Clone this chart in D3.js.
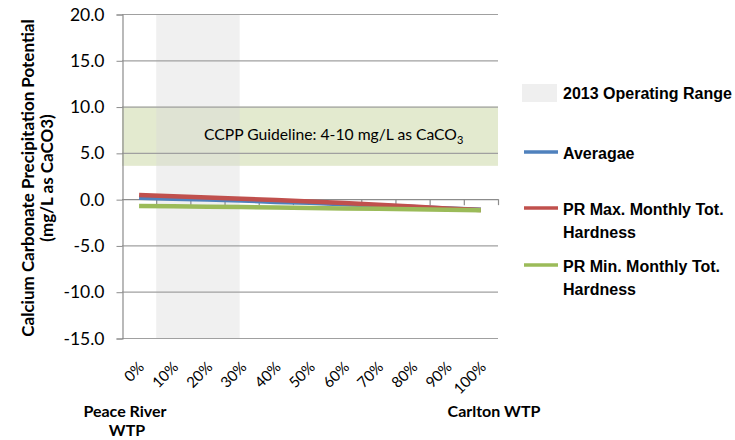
<!DOCTYPE html>
<html>
<head>
<meta charset="utf-8">
<script src="https://cdn.jsdelivr.net/npm/d3@7"></script>
<style>
  body { margin: 0; background: #fff; }
  svg text { font-family: Lato, "Open Sans", sans-serif; fill: #000; }
</style>
</head>
<body>
<div id="chart"></div>
<script>
// blend ratio Peace River -> Carlton
var categories = ['0%','10%','20%','30%','40%','50%','60%','70%','80%','90%','100%'];
var avgValues = [0.15, 0.05, -0.05, -0.15, -0.3, -0.4, -0.55, -0.7, -0.85, -1.0, -1.15];
var maxValues = [0.45, 0.32, 0.18, 0.05, -0.1, -0.25, -0.42, -0.6, -0.8, -1.0, -1.18];
var minValues = [-0.75, -0.78, -0.82, -0.86, -0.9, -0.95, -1.0, -1.05, -1.1, -1.14, -1.2];
var yTicks = [20, 15, 10, 5, 0, -5, -10, -15];
var guideline = [3.6, 10];
var opRange = ['10%', '30%'];

var seriesNames = ['Averagae', 'PR Max. Monthly Tot. Hardness', 'PR Min. Monthly Tot. Hardness'];
var colors = ['#4f81bd', '#c0504d', '#9bbb59'];
var series = [avgValues, maxValues, minValues];

var W = 735, H = 440;
var svg = d3.select('#chart').append('svg').attr('width', W).attr('height', H);

var x = d3.scaleBand().domain(categories).range([122, 498]).padding(0);
var y = d3.scaleLinear().domain([-15, 20]).range([338, 14]);
var cx = function(c) { return x(c) + x.bandwidth() / 2; };

// guideline band
svg.append('rect')
  .attr('x', 122).attr('width', 498 - 122)
  .attr('y', y(guideline[1])).attr('height', y(guideline[0]) - y(guideline[1]))
  .attr('fill', '#e3eacf');

// operating range
svg.append('rect')
  .attr('x', x(opRange[0])).attr('width', cx(opRange[1]) - 2 - x(opRange[0]))
  .attr('y', 14).attr('height', 338 - 14)
  .attr('fill', '#d9d9d9').attr('opacity', 0.4);

// grid lines
svg.selectAll('.grid').data(yTicks).enter().append('line')
  .attr('x1', 122).attr('x2', 498)
  .attr('y1', function(d) { return y(d) + 0.5; }).attr('y2', function(d) { return y(d) + 0.5; })
  .attr('stroke', function(d) { return d == 0 ? '#8c8c8c' : '#a0a0a0'; }).attr('stroke-width', 1.2);

// y axis
var yAxis = d3.axisLeft(y).tickValues(yTicks).tickSize(6).tickPadding(12)
  .tickFormat(d3.format('.1f'));
var gy = svg.append('g').attr('transform', 'translate(122.5,0.5)').call(yAxis);
gy.select('.domain').attr('stroke', '#8c8c8c').attr('stroke-width', 1.2);
gy.selectAll('.tick line').attr('stroke', '#8c8c8c');
gy.selectAll('.tick text').style('font-size', '17.5px').style('font-family', 'Lato, sans-serif')
  .text(function(d) { return d3.format('.1f')(d).replace('−', '-'); });

// category tick marks on zero line
var bounds = categories.map(function(c) { return x(c); }).concat([498]);
svg.selectAll('.xtick').data(bounds.slice(1)).enter().append('line')
  .attr('x1', function(d) { return d + 0.5; }).attr('x2', function(d) { return d + 0.5; })
  .attr('y1', y(0)).attr('y2', y(0) + 6)
  .attr('stroke', '#8c8c8c').attr('stroke-width', 1.2);

// x labels
svg.selectAll('.xlab').data(categories).enter().append('text')
  .attr('transform', function(c) { return 'translate(' + (cx(c) + 6) + ',368) rotate(-45)'; })
  .attr('text-anchor', 'end')
  .style('font-size', '15px')
  .text(function(c) { return c; });

// guideline label
var gt = svg.append('text').attr('x', 204).attr('y', 140).style('font-size', '15.7px');
gt.append('tspan').text('CCPP Guideline: 4-10 mg/L as CaCO');
gt.append('tspan').attr('dy', 4).style('font-size', '11px').text('3');

// lines
var line = d3.line().x(function(d, i) { return cx(categories[i]); }).y(function(d) { return y(d); });
series.forEach(function(s, k) {
  svg.append('path').datum(s).attr('d', line)
    .attr('fill', 'none').attr('stroke', colors[k]).attr('stroke-width', 4.5);
});

// y title
var yt = svg.append('text').attr('transform', 'translate(0,178) rotate(-90)')
  .attr('text-anchor', 'middle').style('font-weight', 'bold').style('font-size', '17px');
yt.append('tspan').attr('x', 0).attr('y', 34).text('Calcium Carbonate Precipitation Potential');
yt.append('tspan').attr('x', 0).attr('y', 53).text('(mg/L as CaCO3)');

// end labels
var pl = svg.append('text').attr('text-anchor', 'middle').style('font-weight', 'bold').style('font-size', '16px');
pl.append('tspan').attr('x', 125).attr('y', 417).text('Peace River');
pl.append('tspan').attr('x', 127).attr('y', 436).text('WTP');
svg.append('text').attr('x', 494).attr('y', 417).attr('text-anchor', 'middle')
  .style('font-weight', 'bold').style('font-size', '16px').text('Carlton WTP');

// legend
var lg = svg.append('g').style('font-family', '"Liberation Sans", Arial, sans-serif');
lg.append('rect').attr('x', 522).attr('y', 84).attr('width', 35).attr('height', 18).attr('fill', '#efefef');
lg.append('text').attr('x', 563).attr('y', 99).style('font-family', '"Liberation Sans", Arial')
  .style('font-weight', 'bold').style('font-size', '16px').text('2013 Operating Range');
var legY = [152, 208, 265];
seriesNames.forEach(function(n, k) {
  lg.append('line').attr('x1', 524).attr('x2', 558).attr('y1', legY[k]).attr('y2', legY[k])
    .attr('stroke', colors[k]).attr('stroke-width', 3.5);
  var t = lg.append('text').style('font-family', '"Liberation Sans", Arial')
    .style('font-weight', 'bold').style('font-size', '16px');
  var parts = k == 0 ? [n] : [n.replace(' Hardness', ''), 'Hardness'];
  parts.forEach(function(p, j) {
    t.append('tspan').attr('x', 563).attr('y', legY[k] + 7 + j * 23).text(p);
  });
});
</script>
</body>
</html>
